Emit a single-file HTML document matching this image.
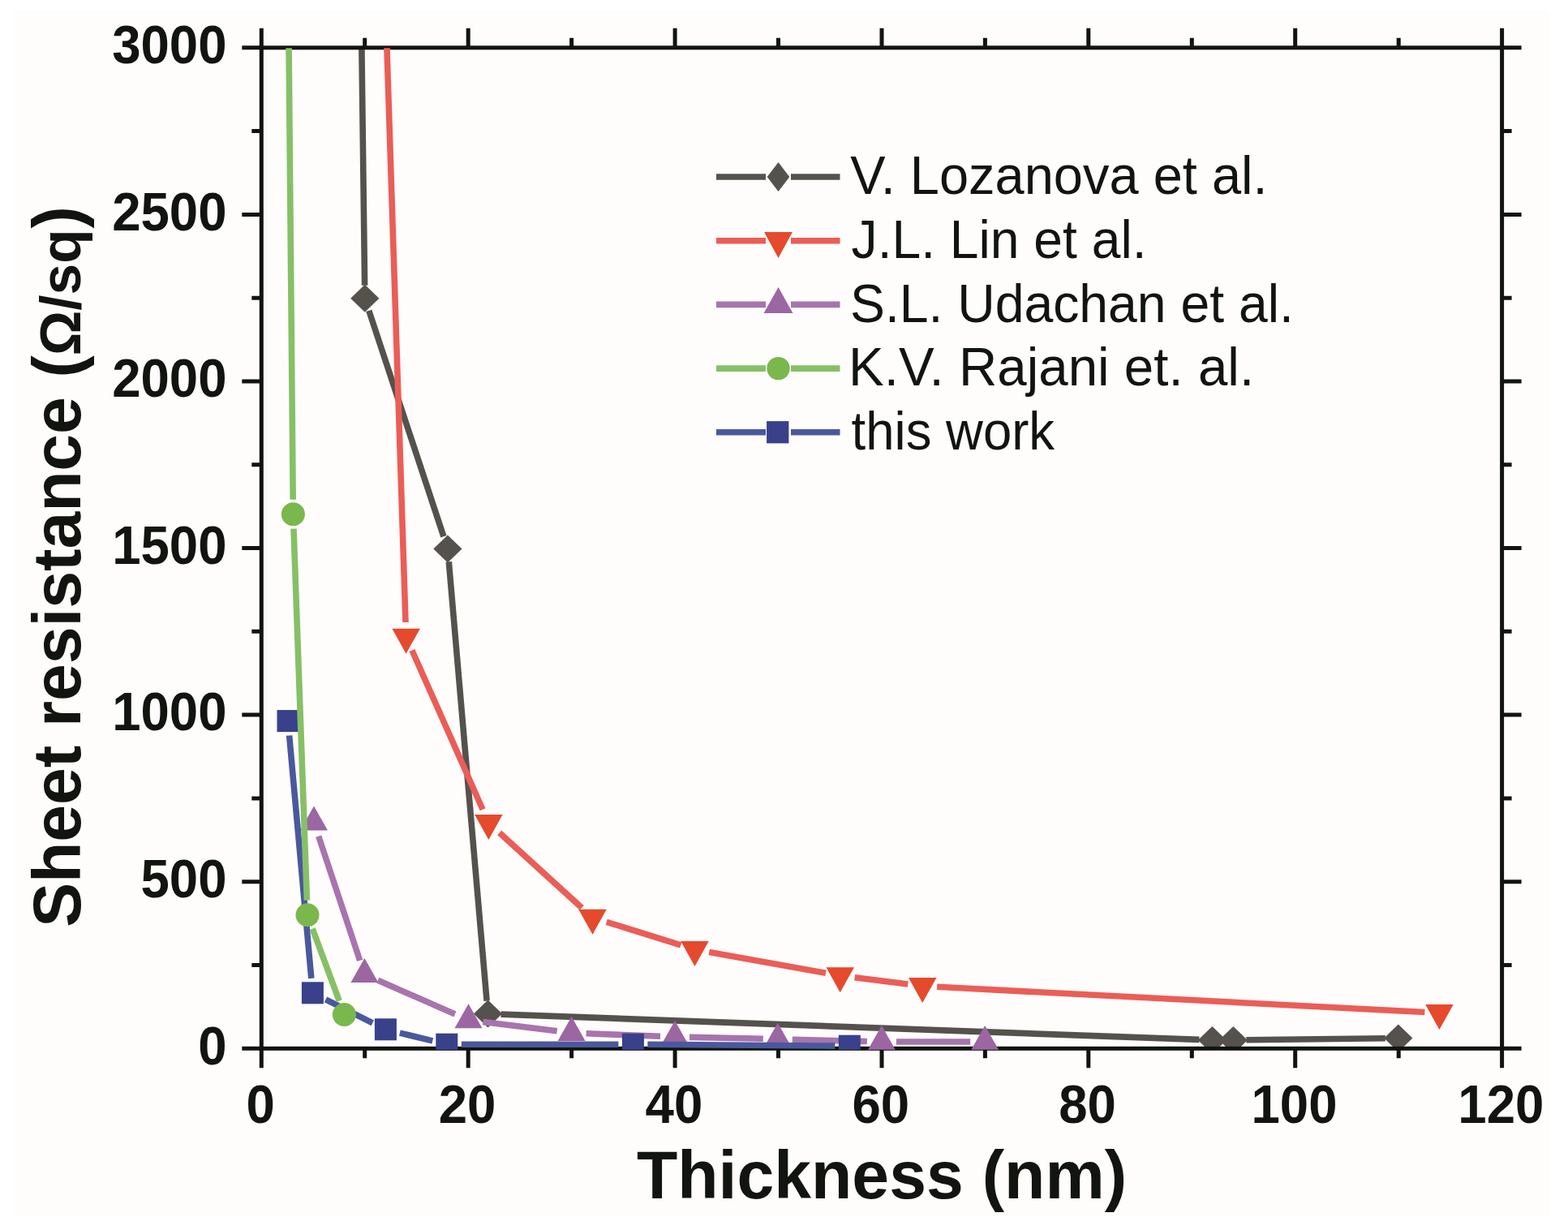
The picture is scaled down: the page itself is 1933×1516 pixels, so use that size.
<!DOCTYPE html>
<html><head><meta charset="utf-8"><title>Sheet resistance vs Thickness</title>
<style>html,body{margin:0;padding:0;background:#fff;}svg{display:block;}</style>
</head><body><svg width="1933" height="1516" viewBox="0 0 1933 1516"><rect x="0" y="0" width="1933" height="1516" fill="#ffffff"/><rect x="17" y="13" width="1893" height="1486" fill="#fefdfc"/><defs><clipPath id="pc"><rect x="322.3" y="59.199999999999996" width="1529.3" height="1234.5"/></clipPath></defs><g clip-path="url(#pc)"><path d="M442.6 -200.0L449.6 351.7 M454.8 382.9L546.9 661.3 M553.3 692.4L600.1 1233.6 M617.5 1250.1L1478.4 1281.4 M1536.4 1281.8L1707.8 1279.7" stroke="#55524e" stroke-width="7.6" fill="none" stroke-linecap="butt"/><path d="M449.8 350.7L467.4 367.7L449.8 384.7L432.2 367.7Z" fill="#55524e"/><path d="M551.9 659.5L569.5 676.5L551.9 693.5L534.3 676.5Z" fill="#55524e"/><path d="M601.5 1232.5L619.1 1249.5L601.5 1266.5L583.9 1249.5Z" fill="#55524e"/><path d="M1494.4 1265.0L1512.0 1282.0L1494.4 1299.0L1476.8 1282.0Z" fill="#55524e"/><path d="M1520.4 1265.0L1538.0 1282.0L1520.4 1299.0L1502.8 1282.0Z" fill="#55524e"/><path d="M1723.8 1262.5L1741.4 1279.5L1723.8 1296.5L1706.2 1279.5Z" fill="#55524e"/></g><rect x="322.3" y="58.8" width="1529.3" height="1233.5" fill="none" stroke="#121410" stroke-width="5.0"/><path d="M322.3 1292.3V1316.3M322.3 58.8V34.8M449.7 1292.3V1304.3M449.7 58.8V46.8M577.2 1292.3V1316.3M577.2 58.8V34.8M704.6 1292.3V1304.3M704.6 58.8V46.8M832.1 1292.3V1316.3M832.1 58.8V34.8M959.5 1292.3V1304.3M959.5 58.8V46.8M1087.0 1292.3V1316.3M1087.0 58.8V34.8M1214.4 1292.3V1304.3M1214.4 58.8V46.8M1341.8 1292.3V1316.3M1341.8 58.8V34.8M1469.3 1292.3V1304.3M1469.3 58.8V46.8M1596.7 1292.3V1316.3M1596.7 58.8V34.8M1724.2 1292.3V1304.3M1724.2 58.8V46.8M1851.6 1292.3V1316.3M1851.6 58.8V34.8M322.3 1292.3H298.3M1851.6 1292.3H1875.6M322.3 1189.5H310.3M1851.6 1189.5H1863.6M322.3 1086.7H298.3M1851.6 1086.7H1875.6M322.3 983.9H310.3M1851.6 983.9H1863.6M322.3 881.1H298.3M1851.6 881.1H1875.6M322.3 778.3H310.3M1851.6 778.3H1863.6M322.3 675.5H298.3M1851.6 675.5H1875.6M322.3 572.8H310.3M1851.6 572.8H1863.6M322.3 470.0H298.3M1851.6 470.0H1875.6M322.3 367.2H310.3M1851.6 367.2H1863.6M322.3 264.4H298.3M1851.6 264.4H1875.6M322.3 161.6H310.3M1851.6 161.6H1863.6M322.3 58.8H298.3M1851.6 58.8H1875.6" stroke="#121410" stroke-width="5.0" fill="none"/><g clip-path="url(#pc)"><path d="M468.5 -200.0L500.0 767.0 M507.9 801.5L595.1 997.8 M615.7 1026.4L717.2 1118.9 M747.7 1136.3L839.3 1164.9 M874.2 1173.4L1018.0 1199.3 M1053.6 1204.8L1119.3 1213.1 M1155.2 1216.3L1756.4 1247.5" stroke="#eb5d57" stroke-width="7.6" fill="none" stroke-linecap="butt"/><path d="M483.4 774.7L517.9 774.7L500.6 805.7Z" fill="#e54a2d"/><path d="M585.1 1004.0L619.6 1004.0L602.4 1035.0Z" fill="#e54a2d"/><path d="M713.2 1120.7L747.8 1120.7L730.5 1151.7Z" fill="#e54a2d"/><path d="M839.2 1159.9L873.8 1159.9L856.5 1190.9Z" fill="#e54a2d"/><path d="M1018.5 1192.2L1053.0 1192.2L1035.7 1223.2Z" fill="#e54a2d"/><path d="M1120.0 1205.1L1154.5 1205.1L1137.2 1236.1Z" fill="#e54a2d"/><path d="M1757.2 1238.1L1791.7 1238.1L1774.4 1269.1Z" fill="#e54a2d"/><path d="M392.7 1030.6L443.7 1183.9 M465.9 1208.2L561.0 1250.0 M595.4 1259.4L686.7 1270.8 M722.6 1273.7L814.0 1277.3 M850.0 1278.4L940.8 1280.3 M976.8 1281.2L1068.9 1283.5 M1104.9 1284.0L1196.2 1284.0" stroke="#a874ad" stroke-width="7.6" fill="none" stroke-linecap="butt"/><path d="M387.0 993.5L404.0 1023.5L370.0 1023.5Z" fill="#9c66a2"/><path d="M449.4 1181.0L466.4 1211.0L432.4 1211.0Z" fill="#9c66a2"/><path d="M577.5 1237.2L594.5 1267.2L560.5 1267.2Z" fill="#9c66a2"/><path d="M704.6 1253.0L721.6 1283.0L687.6 1283.0Z" fill="#9c66a2"/><path d="M832.0 1258.0L849.0 1288.0L815.0 1288.0Z" fill="#9c66a2"/><path d="M958.8 1260.7L975.8 1290.7L941.8 1290.7Z" fill="#9c66a2"/><path d="M1086.9 1264.0L1103.9 1294.0L1069.9 1294.0Z" fill="#9c66a2"/><path d="M1214.2 1264.0L1231.2 1294.0L1197.2 1294.0Z" fill="#9c66a2"/><path d="M356.6 906.5L383.8 1205.9 M401.5 1231.8L459.3 1260.8 M492.9 1273.1L533.3 1282.9 M568.8 1287.2L762.4 1287.2 M798.4 1287.3L1029.3 1289.1" stroke="#4a589d" stroke-width="7.6" fill="none" stroke-linecap="butt"/><rect x="341.5" y="875.1" width="27.0" height="27.0" fill="#38418a"/><rect x="371.9" y="1210.3" width="27.0" height="27.0" fill="#38418a"/><rect x="461.9" y="1255.3" width="27.0" height="27.0" fill="#38418a"/><rect x="537.3" y="1273.7" width="27.0" height="27.0" fill="#38418a"/><rect x="766.9" y="1273.7" width="27.0" height="27.0" fill="#38418a"/><rect x="1033.8" y="1275.7" width="27.0" height="27.0" fill="#38418a"/><path d="M353.7 -200.0L361.2 615.7 M362.0 651.7L378.4 1109.7 M385.2 1144.6L418.2 1233.6" stroke="#86c066" stroke-width="7.6" fill="none" stroke-linecap="butt"/><circle cx="361.4" cy="633.7" r="14.5" fill="#7ab74c"/><circle cx="379.0" cy="1127.7" r="14.5" fill="#7ab74c"/><circle cx="424.4" cy="1250.5" r="14.5" fill="#7ab74c"/></g><g font-family='"Liberation Sans", Arial, sans-serif' font-weight="bold" font-size="66" fill="#121410"><text x="321.1" y="1383.8" text-anchor="middle" textLength="35.36" lengthAdjust="spacingAndGlyphs">0</text><text x="576.0" y="1383.8" text-anchor="middle" textLength="70.72" lengthAdjust="spacingAndGlyphs">20</text><text x="830.9" y="1383.8" text-anchor="middle" textLength="70.72" lengthAdjust="spacingAndGlyphs">40</text><text x="1085.8" y="1383.8" text-anchor="middle" textLength="70.72" lengthAdjust="spacingAndGlyphs">60</text><text x="1340.6" y="1383.8" text-anchor="middle" textLength="70.72" lengthAdjust="spacingAndGlyphs">80</text><text x="1595.5" y="1383.8" text-anchor="middle" textLength="106.08" lengthAdjust="spacingAndGlyphs">100</text><text x="1850.4" y="1383.8" text-anchor="middle" textLength="106.08" lengthAdjust="spacingAndGlyphs">120</text><text x="279.6" y="1311.5" text-anchor="end" textLength="35.36" lengthAdjust="spacingAndGlyphs">0</text><text x="279.6" y="1105.9" text-anchor="end" textLength="106.08" lengthAdjust="spacingAndGlyphs">500</text><text x="279.6" y="900.3" text-anchor="end" textLength="141.44" lengthAdjust="spacingAndGlyphs">1000</text><text x="279.6" y="694.8" text-anchor="end" textLength="141.44" lengthAdjust="spacingAndGlyphs">1500</text><text x="279.6" y="489.2" text-anchor="end" textLength="141.44" lengthAdjust="spacingAndGlyphs">2000</text><text x="279.6" y="283.6" text-anchor="end" textLength="141.44" lengthAdjust="spacingAndGlyphs">2500</text><text x="279.6" y="78.0" text-anchor="end" textLength="141.44" lengthAdjust="spacingAndGlyphs">3000</text></g><text x="1087.0" y="1477.3" text-anchor="middle" textLength="604.2" lengthAdjust="spacingAndGlyphs" font-family='"Liberation Sans", Arial, sans-serif' font-weight="bold" font-size="84" fill="#121410">Thickness (nm)</text><text transform="translate(99,816.0) rotate(-90)" x="0" y="0" text-anchor="middle" textLength="653.7" lengthAdjust="spacingAndGlyphs" font-size="84" font-family='"Liberation Sans", Arial, sans-serif' font-weight="bold" fill="#121410">Sheet resistance</text><text transform="translate(99,451.8) rotate(-90)" x="0" y="0" text-anchor="middle" textLength="27.4" lengthAdjust="spacingAndGlyphs" font-size="84" font-family='"Liberation Sans", Arial, sans-serif' font-weight="bold" fill="#121410">(</text><text transform="translate(99,360.4) rotate(-90)" x="0" y="0" text-anchor="middle" textLength="155.8" lengthAdjust="spacingAndGlyphs" font-size="71" font-family='"Liberation Sans", Arial, sans-serif' font-weight="bold" fill="#121410">Ω/sq</text><text transform="translate(99,267.8) rotate(-90)" x="0" y="0" text-anchor="middle" textLength="27.4" lengthAdjust="spacingAndGlyphs" font-size="84" font-family='"Liberation Sans", Arial, sans-serif' font-weight="bold" fill="#121410">)</text><path d="M883 218.0H944.0M975.0 218.0H1035.5" stroke="#55524e" stroke-width="7.6" fill="none"/><path d="M959.5 200.0L973.3 218.0L959.5 236.0L945.7 218.0Z" fill="#55524e"/><text x="1048.3" y="239.3" textLength="514.3" lengthAdjust="spacingAndGlyphs" font-family='"Liberation Sans", Arial, sans-serif' font-size="66" fill="#121410">V. Lozanova et al.</text><path d="M883 296.7H944.0M975.0 296.7H1035.5" stroke="#eb5d57" stroke-width="7.6" fill="none"/><path d="M942.0 286.0L977.0 286.0L959.5 318.0Z" fill="#e54a2d"/><text x="1049.6" y="318.0" textLength="363.9" lengthAdjust="spacingAndGlyphs" font-family='"Liberation Sans", Arial, sans-serif' font-size="66" fill="#121410">J.L. Lin et al.</text><path d="M883 375.4H944.0M975.0 375.4H1035.5" stroke="#a874ad" stroke-width="7.6" fill="none"/><path d="M959.5 354.1L977.5 386.1L941.5 386.1Z" fill="#9c66a2"/><text x="1048.0" y="396.7" textLength="546.9" lengthAdjust="spacingAndGlyphs" font-family='"Liberation Sans", Arial, sans-serif' font-size="66" fill="#121410">S.L. Udachan et al.</text><path d="M883 454.1H944.0M975.0 454.1H1035.5" stroke="#86c066" stroke-width="7.6" fill="none"/><circle cx="959.5" cy="454.1" r="14.2" fill="#7ab74c"/><text x="1046.0" y="475.4" textLength="500.1" lengthAdjust="spacingAndGlyphs" font-family='"Liberation Sans", Arial, sans-serif' font-size="66" fill="#121410">K.V. Rajani et. al.</text><path d="M883 532.8H944.0M975.0 532.8H1035.5" stroke="#4a589d" stroke-width="7.6" fill="none"/><rect x="945.1" y="519.1" width="27.3" height="27.3" fill="#38418a"/><text x="1049.6" y="554.1" textLength="250.5" lengthAdjust="spacingAndGlyphs" font-family='"Liberation Sans", Arial, sans-serif' font-size="66" fill="#121410">this work</text></svg></body></html>
